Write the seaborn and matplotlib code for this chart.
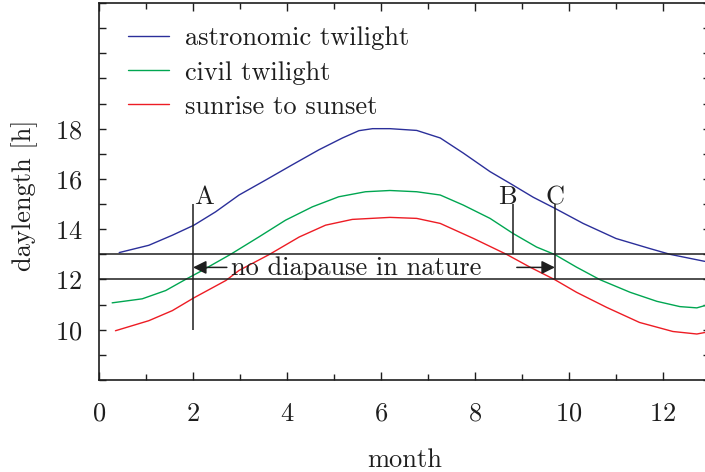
import pandas as pd
import matplotlib
matplotlib.use("Agg")
import matplotlib.pyplot as plt
import seaborn as sns
from matplotlib.ticker import MultipleLocator, FixedLocator

# -----------------------
# データ
# -----------------------
astro_month = [0.43, 1.06, 1.56, 2.02, 2.48, 2.98, 3.55, 4.11, 4.68, 5.18, 5.53, 5.82, 6.19,
               6.76, 7.26, 7.75, 8.32, 8.74, 9.24, 9.70, 10.3, 11.0, 11.72, 12.15, 12.89]
astro_hours = [13.07, 13.36, 13.76, 14.16, 14.69, 15.36, 15.96, 16.56, 17.16, 17.63, 17.92, 18.0, 18.0,
               17.93, 17.63, 17.03, 16.29, 15.83, 15.27, 14.83, 14.23, 13.63, 13.23, 13.0, 12.72]

civil_month = [0.28, 0.92, 1.42, 1.84, 2.13, 2.8, 3.4, 3.97, 4.54, 5.1, 5.67, 6.19,
               6.76, 7.26, 7.75, 8.32, 8.81, 9.31, 9.70, 10.16, 10.66, 11.3, 11.87, 12.36, 12.72, 12.89]
civil_hours = [11.07, 11.23, 11.56, 12.0, 12.29, 13.0, 13.69, 14.36, 14.89, 15.29, 15.49, 15.54,
               15.49, 15.36, 14.96, 14.43, 13.83, 13.29, 12.99, 12.49, 11.99, 11.49, 11.13, 10.92, 10.87, 10.96]

sun_month = [0.35, 1.06, 1.56, 2.02, 2.7, 2.98, 3.62, 4.26, 4.82, 5.39, 6.19,
             6.76, 7.26, 7.97, 8.67, 9.17, 9.70, 10.16, 10.8, 11.5, 12.21, 12.72, 12.89]
sun_hours = [9.96, 10.36, 10.76, 11.27, 11.96, 12.36, 12.99, 13.69, 14.16, 14.39, 14.47,
             14.43, 14.23, 13.63, 13.0, 12.49, 11.99, 11.49, 10.89, 10.29, 9.93, 9.83, 9.89]

series_names = ["astronomic twilight", "civil twilight", "sunrise to sunset"]
series_colors = ["#2b2f9a", "#00a651", "#ed1c24"]

thresholds = [12, 13]
mark_labels = ["A", "B", "C"]
mark_month = [2.0, 8.8, 9.7]
mark_low = [10, 13, 12]
mark_high = [15, 15, 15]

arrow_y = 12.48
arrow_tail = [2.72, 8.89]
arrow_head = [2.0, 9.7]
note_text = "no diapause in nature"

# -----------------------
# DataFrame
# -----------------------
df = pd.concat([
    pd.DataFrame({"month": astro_month, "daylength": astro_hours, "series": series_names[0]}),
    pd.DataFrame({"month": civil_month, "daylength": civil_hours, "series": series_names[1]}),
    pd.DataFrame({"month": sun_month, "daylength": sun_hours, "series": series_names[2]}),
], ignore_index=True)

# -----------------------
# 描画
# -----------------------
sns.set_style("ticks")
plt.rcParams["font.family"] = ["cmr10", "DejaVu Serif"]
plt.rcParams["axes.formatter.use_mathtext"] = True
ink = "#1e1e1e"
fs = 19

fig = plt.figure(figsize=(7.05, 4.72), dpi=100)
ax = fig.add_axes([99 / 705, 1 - 380 / 472, 611 / 705, 377 / 472])

sns.lineplot(data=df, x="month", y="daylength", hue="series", hue_order=series_names,
             palette=series_colors, sort=False, estimator=None, lw=1.0, ax=ax)
for ln in ax.get_lines():
    ln.set_solid_joinstyle("round")

for t in thresholds:
    ax.hlines(t, 0, 13, color=ink, lw=1.1)

for mx, lo, hi in zip(mark_month, mark_low, mark_high):
    ax.vlines(mx, lo, hi, color=ink, lw=1.1)
ax.text(mark_month[0] + 0.02, mark_high[0], mark_labels[0], ha="left", va="baseline", fontsize=fs, color=ink)
ax.text(mark_month[1] - 0.12, mark_high[1], mark_labels[1], ha="center", va="baseline", fontsize=fs, color=ink)
ax.text(mark_month[2], mark_high[2], mark_labels[2], ha="center", va="baseline", fontsize=fs, color=ink)

for tail, head in zip(arrow_tail, arrow_head):
    ax.annotate("", xy=(head, arrow_y), xytext=(tail, arrow_y),
                arrowprops=dict(arrowstyle="-|>", color=ink, lw=1.1, mutation_scale=20,
                                shrinkA=0, shrinkB=0))
ax.text(2.81, 12.45, note_text, ha="left", va="center", fontsize=fs, color=ink)

ax.set_xlim(0, 13)
ax.set_ylim(8, 23)
ax.xaxis.set_major_locator(MultipleLocator(2))
ax.xaxis.set_minor_locator(MultipleLocator(1))
ax.yaxis.set_major_locator(FixedLocator([10, 12, 14, 16, 18]))
ax.yaxis.set_minor_locator(MultipleLocator(1))
ax.tick_params(which="both", direction="in", top=True, right=True, colors=ink, labelsize=fs)
ax.tick_params(axis="x", which="major", length=5.5, width=1, pad=16)
ax.tick_params(axis="x", which="minor", length=4, width=1)
ax.tick_params(axis="y", which="both", length=5, width=1, pad=12)
for sp in ax.spines.values():
    sp.set_linewidth(1.2)
    sp.set_color(ink)

ax.set_xlabel("month", fontsize=fs, color=ink, labelpad=16)
ax.set_ylabel("daylength [h]", fontsize=fs, color=ink, labelpad=12)
ax.yaxis.label.set_y(0.49)

handles, labels = ax.get_legend_handles_labels()
ax.legend(handles, labels, loc="upper left", bbox_to_anchor=(0.0475, 0.937), frameon=False,
          fontsize=fs, handlelength=1.55, handletextpad=0.6, labelspacing=0.39,
          borderpad=0, borderaxespad=0, labelcolor=ink)

fig.savefig("out.png", dpi=100)
